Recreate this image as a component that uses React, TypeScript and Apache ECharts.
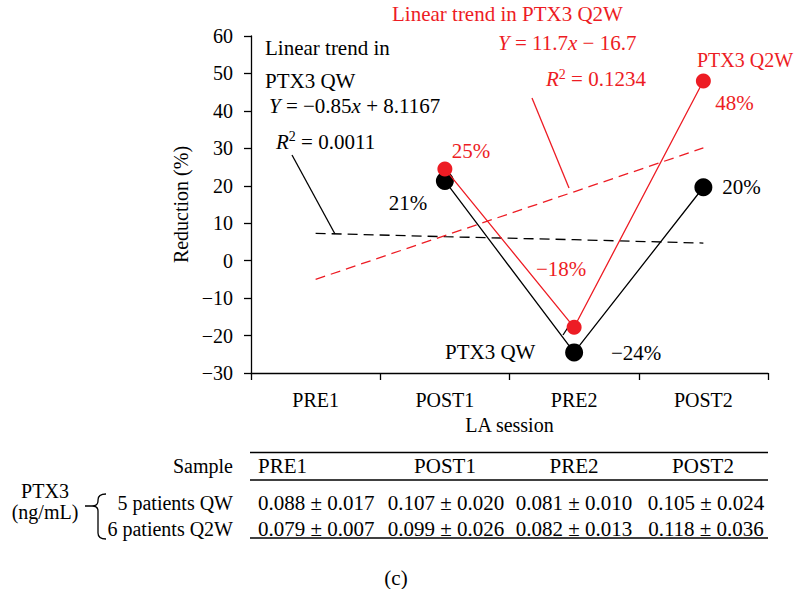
import React, { useEffect, useRef } from "react";
import * as echarts from "echarts";

const FONT = "Liberation Serif";
const RED = "#ed1c24";
const FS = 21;

const categories = ["PRE1", "POST1", "PRE2", "POST2"];
const qwValues = [null, 21.3, -24.5, 19.6];
const q2wValues = [null, 24.5, -17.8, 48];
const qwTrend = [7.3, 6.4, 5.6, 4.7];
const q2wTrend = [-5.0, 6.7, 18.4, 30.1];
const qwLabels = ["", "21%", "−24%", "20%"];
const q2wLabels = ["", "25%", "−18%", "48%"];
const qwLabelOffsets = [[0, 0], [-37, 22], [62, 1], [38, 0]];
const q2wLabelOffsets = [[0, 0], [26, -18], [-13, -58], [31, 22]];

const tableHeader = ["Sample", "PRE1", "POST1", "PRE2", "POST2"];
const tableRowQW = ["5 patients QW", "0.088 ± 0.017", "0.107 ± 0.020", "0.081 ± 0.010", "0.105 ± 0.024"];
const tableRowQ2W = ["6 patients Q2W", "0.079 ± 0.007", "0.099 ± 0.026", "0.082 ± 0.013", "0.118 ± 0.036"];

const braceD =
  "M106,494 Q98,494 98,500 L98,501 Q98,506 92,506 L85,506 M92,506 Q98,506 98,511 L98,533 Q98,539 106,539";
echarts.graphic.registerShape("brace", echarts.graphic.extendPath(braceD, {}));

function txt(x: number, y: number, text: string, color = "#000", align = "left", extra: any = {}) {
  return {
    type: "text",
    x,
    y,
    style: {
      text,
      fill: color,
      fontSize: FS,
      fontFamily: FONT,
      align,
      verticalAlign: "middle",
      rich: {
        i: { fontStyle: "italic", fontSize: FS, fontFamily: FONT, fill: color },
        s: { fontSize: 14, fontFamily: FONT, fill: color, verticalAlign: "top", lineHeight: 24 },
      },
      ...extra,
    },
  };
}

function seg(x1: number, y1: number, x2: number, y2: number, color = "#000") {
  return {
    type: "line",
    shape: { x1, y1, x2, y2 },
    style: { stroke: color, lineWidth: 1.3 },
  };
}

function labeled(values: (number | null)[], labels: string[], offsets: number[][], color: string) {
  return values.map((v, i) =>
    v === null
      ? null
      : {
          value: v,
          label: {
            show: true,
            position: "inside",
            offset: offsets[i],
            formatter: labels[i],
            color,
            fontSize: FS,
            fontFamily: FONT,
          },
        }
  );
}

export default function App() {
  const ref = useRef<HTMLDivElement>(null);
  useEffect(() => {
    if (!ref.current) return;
    const chart = echarts.init(ref.current, null, { renderer: "svg" });
    const colCenters = [233, 258, 446, 574, 706];
    const headerCenters = [233, 258, 445, 574, 703];
    const aligns = ["right", "left", "center", "center", "center"];
    const tableTexts: any[] = [];
    const sz = (i: number) => ({ fontSize: i === 0 ? 20 : FS });
    tableHeader.forEach((t, i) => tableTexts.push(txt(headerCenters[i], 466, t, "#000", aligns[i], sz(i))));
    tableRowQW.forEach((t, i) => tableTexts.push(txt(colCenters[i], 503, t, "#000", aligns[i], sz(i))));
    tableRowQ2W.forEach((t, i) => tableTexts.push(txt(colCenters[i], 528.5, t, "#000", aligns[i], sz(i))));

    chart.setOption({
      animation: false,
      textStyle: { fontFamily: FONT },
      grid: { left: 251, right: 28, top: 36, bottom: 216 },
      xAxis: {
        type: "category",
        data: categories,
        boundaryGap: true,
        name: "LA session",
        nameLocation: "middle",
        nameGap: 40,
        nameTextStyle: { color: "#000", fontSize: 20, fontFamily: FONT },
        axisLine: { onZero: false, lineStyle: { color: "#000", width: 1.3 } },
        axisTick: { show: true, length: 7, lineStyle: { color: "#000", width: 1.3 } },
        axisLabel: { color: "#000", fontSize: 20, fontFamily: FONT, margin: 17 },
        splitLine: { show: false },
      },
      yAxis: {
        type: "value",
        min: -30,
        max: 60,
        interval: 10,
        name: "Reduction (%)",
        nameLocation: "middle",
        nameGap: 60,
        nameTextStyle: { color: "#000", fontSize: 20, fontFamily: FONT },
        axisLine: { show: true, lineStyle: { color: "#000", width: 1.3 } },
        axisTick: { show: true, length: 7, lineStyle: { color: "#000", width: 1.3 } },
        axisLabel: {
          color: "#000",
          fontSize: 20,
          fontFamily: FONT,
          margin: 18,
          formatter: (v: number) => (v < 0 ? "−" + Math.abs(v) : String(v)),
        },
        splitLine: { show: false },
      },
      series: [
        {
          name: "QW trend",
          type: "line",
          data: qwTrend,
          symbol: "none",
          lineStyle: { color: "#000", width: 1.3, type: [10, 6] },
          z: 1,
        },
        {
          name: "Q2W trend",
          type: "line",
          data: q2wTrend,
          symbol: "none",
          lineStyle: { color: RED, width: 1.3, type: [10, 6] },
          z: 1,
        },
        {
          name: "PTX3 QW",
          type: "line",
          data: labeled(qwValues, qwLabels, qwLabelOffsets, "#000"),
          symbol: "circle",
          symbolSize: 18,
          itemStyle: { color: "#000" },
          lineStyle: { color: "#000", width: 1.3 },
          z: 2,
        },
        {
          name: "PTX3 Q2W",
          type: "line",
          data: labeled(q2wValues, q2wLabels, q2wLabelOffsets, RED),
          symbol: "circle",
          symbolSize: 15,
          itemStyle: { color: RED },
          lineStyle: { color: RED, width: 1.3 },
          z: 3,
        },
      ],
      graphic: [
        txt(265, 48, "Linear trend in"),
        txt(265, 81, "PTX3 QW"),
        txt(269, 106, "{i|Y} = −0.85{i|x} + 8.1167"),
        txt(276, 141.5, "{i|R}{s|2} = 0.0011"),
        seg(292, 155, 335, 234),
        txt(392, 14, "Linear trend in PTX3 Q2W", RED),
        txt(498, 43, "{i|Y} = 11.7{i|x} − 16.7", RED),
        txt(546, 79, "{i|R}{s|2} = 0.1234", RED),
        seg(532, 98, 569, 188, RED),
        txt(697, 60, "PTX3 Q2W", RED, "left", { fontSize: 20 }),
        txt(445, 352, "PTX3 QW"),
        seg(563, 335, 571.5, 322),
        seg(250, 452.5, 768, 452.5),
        seg(250, 480, 768, 480),
        seg(250, 538, 768, 538),
        ...tableTexts,
        txt(45, 491, "PTX3", "#000", "center", { fontSize: 20 }),
        txt(45, 511.5, "(ng/mL)", "#000", "center", { fontSize: 20, lineHeight: 19 }),
        {
          type: "brace",
          x: 0,
          y: 0,
          style: { fill: "none", stroke: "#000", lineWidth: 1.3 },
        },
        txt(396, 578, "(c)", "#000", "center"),
      ],
    });
    return () => chart.dispose();
  }, []);
  return (
    <div
      ref={ref}
      style={{ position: "fixed", left: 0, top: 0, width: 796, height: 589, background: "#fff" }}
    />
  );
}
